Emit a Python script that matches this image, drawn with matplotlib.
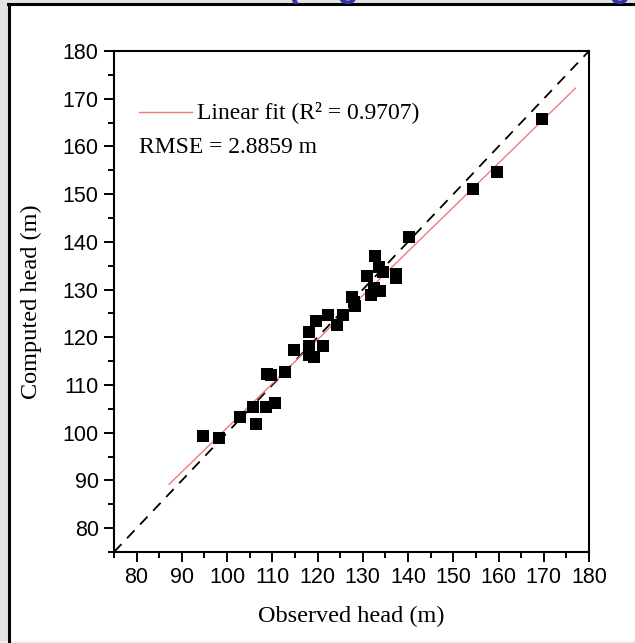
import matplotlib
matplotlib.use("Agg")
import matplotlib.pyplot as plt
from matplotlib.lines import Line2D
from matplotlib.patches import Rectangle
from matplotlib.ticker import MultipleLocator

observed = [94.6, 98.1, 102.9, 105.7, 106.4, 108.6, 110.5, 108.8, 109.7, 112.8,
            114.7, 118.1, 118.1, 118.1, 119.1, 119.7, 121.3, 122.3, 124.4, 125.7,
            127.6, 128.1, 128.3, 130.9, 131.8, 132.5, 132.7, 133.5, 133.7, 134.4,
            137.3, 137.3, 140.1, 154.4, 159.7, 169.6]
computed = [99.4, 98.8, 103.2, 105.3, 101.8, 105.3, 106.2, 112.3, 112.0, 112.8,
            117.3, 121.2, 118.2, 116.3, 115.9, 123.5, 118.2, 124.6, 122.6, 124.7,
            128.5, 127.5, 126.6, 132.9, 128.9, 130.3, 137.1, 134.8, 129.8, 133.6,
            133.2, 132.4, 141.0, 151.0, 154.7, 165.7]

fit_x = [87.2, 177.0]
fit_y = [89.2, 172.2]
identity = [75, 180]

x_ticks = [80, 90, 100, 110, 120, 130, 140, 150, 160, 170, 180]
y_ticks = [80, 90, 100, 110, 120, 130, 140, 150, 160, 170, 180]

legend_text = "Linear fit (R\u00b2 = 0.9707)"
rmse_text = "RMSE = 2.8859 m"

W, H = 635, 643
fig = plt.figure(figsize=(W / 100, H / 100), dpi=100)
fig.patch.set_facecolor("white")

# slide-like frame
fig.add_artist(Rectangle((0, 0), 8 / W, 1, transform=fig.transFigure,
                         facecolor="#e2e2e2", edgecolor="none", zorder=0))
fig.add_artist(Rectangle((0, 1 - 3 / H), 1, 3 / H, transform=fig.transFigure,
                         facecolor="#e2e2e2", edgecolor="none", zorder=0))
fig.add_artist(Rectangle((0, 0), 1, 2 / H, transform=fig.transFigure,
                         facecolor="#f0f0f0", edgecolor="none", zorder=0))
fig.add_artist(Line2D([9 / W, 9 / W], [0, 1 - 3.5 / H], transform=fig.transFigure,
                      color="black", lw=2.2, zorder=1))
fig.add_artist(Line2D([8 / W, 1], [1 - 4 / H, 1 - 4 / H], transform=fig.transFigure,
                      color="black", lw=2.2, zorder=1))
# cut-off slide title descenders
for ch, xp in [("(", 286), ("g", 337), ("g", 609)]:
    fig.text(xp / W, 1 + 4 / H, ch, color="#3535a8", fontsize=26,
             family="Liberation Sans", fontweight="bold", va="baseline", ha="left")

ax = fig.add_axes([114 / W, 91 / H, 475 / W, 501 / H])
ax.set_xlim(75, 180)
ax.set_ylim(75, 180)

ax.plot(identity, identity, color="black", lw=1.3, ls=(0, (6, 4.5)), zorder=2)
ax.plot(fit_x, fit_y, color="#f07a7a", lw=1.0, zorder=3)
ax.scatter(observed, computed, marker="s", s=75, color="black", zorder=4,
           linewidths=0)

ax.set_xticks(x_ticks)
ax.set_yticks(y_ticks)
ax.xaxis.set_minor_locator(MultipleLocator(5))
ax.yaxis.set_minor_locator(MultipleLocator(5))
ax.tick_params(which="major", direction="out", length=7, width=1.4,
               labelsize=15.5, top=False, right=False, pad=4)
ax.tick_params(which="minor", direction="out", length=4.5, width=1.4,
               top=False, right=False)
for lab in ax.get_xticklabels() + ax.get_yticklabels():
    lab.set_family("Liberation Sans")
for sp in ax.spines.values():
    sp.set_linewidth(1.5)

ax.set_xlabel("Observed head (m)", family="Liberation Serif", fontsize=17.5, labelpad=13)
ax.set_ylabel("Computed head (m)", family="Liberation Serif", fontsize=17.5, labelpad=15)

# legend-like annotation
ax.plot([80.5, 92.2], [167.3, 167.3], color="#f07a7a", lw=1.0)
ax.text(93.4, 167.3, legend_text, family="Liberation Serif", fontsize=17,
        va="center", ha="left")
ax.text(80.5, 159.8, rmse_text, family="Liberation Serif", fontsize=17,
        va="center", ha="left")

fig.savefig("out.png", dpi=100)
